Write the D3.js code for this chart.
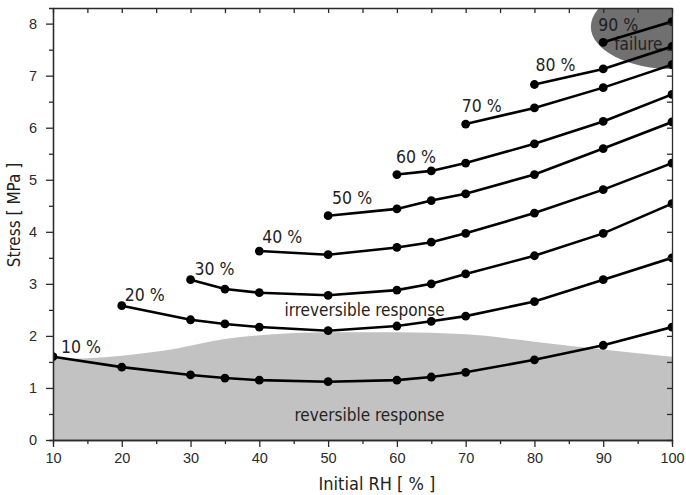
<!DOCTYPE html>
<html>
<head>
<meta charset="utf-8">
<script src="https://cdn.jsdelivr.net/npm/d3@7"></script>
<style>
  body { margin: 0; background: #fff; }
  svg { display: block; font-family: "DejaVu Sans Condensed", "DejaVu Sans", sans-serif; }
  .axis path, .axis line { stroke: #2b2b2b; stroke-width: 1.3; }
  .axis text { fill: #2b2b2b; font-size: 14.5px; }
</style>
</head>
<body>
<svg class="plot" width="686" height="495"></svg>
<script>
// initial RH values where the measurements were taken
var rhValues = [10, 20, 30, 35, 40, 50, 60, 65, 70, 80, 90, 100];

// final RH of each curve (the curve starts at that initial RH)
var finalRH = [10, 20, 30, 40, 50, 60, 70, 80, 90];
var curveLabels = ["10 %", "20 %", "30 %", "40 %", "50 %", "60 %", "70 %", "80 %", "90 %"];

// stress [MPa], one value per rhValues entry from the curve start on
var stress10 = [1.60, 1.40, 1.25, 1.19, 1.15, 1.12, 1.15, 1.21, 1.30, 1.54, 1.82, 2.17];
var stress20 = [2.58, 2.31, 2.23, 2.17, 2.10, 2.19, 2.28, 2.38, 2.66, 3.08, 3.50];
var stress30 = [3.08, 2.90, 2.83, 2.78, 2.88, 3.00, 3.19, 3.54, 3.97, 4.54];
var stress40 = [3.63, 3.56, 3.70, 3.80, 3.97, 4.36, 4.81, 5.32];
var stress50 = [4.31, 4.44, 4.60, 4.73, 5.10, 5.60, 6.11];
var stress60 = [5.10, 5.17, 5.32, 5.69, 6.12, 6.64];
var stress70 = [6.07, 6.38, 6.77, 7.21];
var stress80 = [6.83, 7.13, 7.56];
var stress90 = [7.64, 8.04];

// upper edge of the reversible-response zone
var reversibleRH     = [10, 20, 28, 35, 42, 50, 60, 70, 80, 90, 100];
var reversibleStress = [1.55, 1.62, 1.76, 1.94, 2.03, 2.07, 2.07, 2.03, 1.89, 1.74, 1.60];

// failure zone (ellipse), centre and half axes in data units
var failureCentre = [100, 7.94];
var failureRadius = [11.8, 0.81];

var xTicks = [10, 20, 30, 40, 50, 60, 70, 80, 90, 100];
var yTicks = [0, 1, 2, 3, 4, 5, 6, 7, 8];

var svg = d3.select(".plot"),
    margin = {top: 8, right: 14, bottom: 55, left: 53},
    width = +svg.attr("width") - margin.left - margin.right,
    height = +svg.attr("height") - margin.top - margin.bottom;

var x = d3.scaleLinear().domain([10, 100]).range([0, width]),
    y = d3.scaleLinear().domain([0, 8.3]).range([height, 0]);

var g = svg.append("g")
    .attr("transform", "translate(" + margin.left + "," + margin.top + ")");

g.append("clipPath").attr("id", "clip")
  .append("rect").attr("width", width).attr("height", height);

var plot = g.append("g").attr("clip-path", "url(#clip)");

//reversible zone
var area = d3.area()
    .x(function(d) { return x(d[0]); })
    .y0(height)
    .y1(function(d) { return y(d[1]); })
    .curve(d3.curveMonotoneX);

plot.append("path")
    .datum(reversibleRH.map(function(r, i) { return [r, reversibleStress[i]]; }))
    .attr("d", area)
    .style("fill", "#c2c2c2");

//failure zone
plot.append("ellipse")
    .attr("cx", x(failureCentre[0]))
    .attr("cy", y(failureCentre[1]))
    .attr("rx", x(failureCentre[0] + failureRadius[0]) - x(failureCentre[0]))
    .attr("ry", y(failureCentre[1] - failureRadius[1]) - y(failureCentre[1]))
    .style("fill", "#707070");

//zone labels
g.append("text")
    .attr("x", x(55.3)).attr("y", y(2.38))
    .style("text-anchor", "middle").style("font-size", "17px").style("fill", "#222")
    .text("irreversible response");

g.append("text")
    .attr("x", x(56)).attr("y", y(0.36))
    .style("text-anchor", "middle").style("font-size", "17px").style("fill", "#222")
    .text("reversible response");

plot.append("text")
    .attr("x", x(91.6)).attr("y", y(7.5))
    .style("font-size", "17px").style("fill", "#222")
    .text("failure");

//curves
var allStress = [stress10, stress20, stress30, stress40, stress50, stress60, stress70, stress80, stress90];
var curves = finalRH.map(function(f, i) {
  var rh = rhValues.slice(rhValues.indexOf(f));
  return {
    label: curveLabels[i],
    points: rh.map(function(r, j) { return [r, allStress[i][j]]; })
  };
});

var line = d3.line()
    .x(function(d) { return x(d[0]); })
    .y(function(d) { return y(d[1]); });

plot.selectAll(".curve")
    .data(curves)
    .enter().append("path")
    .attr("class", "curve")
    .attr("d", function(d) { return line(d.points); })
    .style("fill", "none")
    .style("stroke", "#000")
    .style("stroke-width", 2.6);

plot.selectAll(".dot")
    .data(d3.merge(curves.map(function(c) { return c.points; })))
    .enter().append("circle")
    .attr("class", "dot")
    .attr("cx", function(d) { return x(d[0]); })
    .attr("cy", function(d) { return y(d[1]); })
    .attr("r", 4.4)
    .style("fill", "#000");

//curve labels, nudged by hand like the original
var nudge = [[8, -4], [3, -5], [4, -5], [3, -8], [4, -12], [-1, -12], [-4, -12], [1, -14], [-5, -11]];
g.selectAll(".curve-label")
    .data(curves)
    .enter().append("text")
    .attr("class", "curve-label")
    .attr("x", function(d, i) { return x(d.points[0][0]) + nudge[i][0]; })
    .attr("y", function(d, i) { return y(d.points[0][1]) + nudge[i][1]; })
    .style("font-size", "17.5px")
    .style("fill", "#1e1e1e")
    .text(function(d) { return d.label; });

//axes
g.append("g")
    .attr("class", "axis")
    .attr("transform", "translate(0," + height + ")")
    .call(d3.axisBottom(x).tickValues(d3.range(15, 100, 10)).tickSize(4).tickFormat(""));

g.append("g")
    .attr("class", "axis axis--x")
    .attr("transform", "translate(0," + height + ")")
    .call(d3.axisBottom(x).tickValues(xTicks).tickSize(7).tickPadding(6).tickSizeOuter(0));

g.append("g")
    .attr("class", "axis")
    .call(d3.axisLeft(y).tickValues(d3.range(0.5, 8.3, 1)).tickSize(4).tickFormat(""));

g.append("g")
    .attr("class", "axis axis--y")
    .call(d3.axisLeft(y).tickValues(yTicks).tickSize(7).tickPadding(9).tickSizeOuter(0));

g.append("g")
    .attr("class", "axis")
    .call(d3.axisTop(x).tickValues(d3.range(10, 101, 5)).tickSize(-5).tickSizeOuter(0).tickFormat(""));

g.append("g")
    .attr("class", "axis")
    .attr("transform", "translate(" + width + ",0)")
    .call(d3.axisRight(y).tickValues(d3.range(0, 8.3, 0.5)).tickSize(-5).tickSizeOuter(0).tickFormat(""));

//axis titles
svg.append("text")
    .attr("transform", "translate(20,215) rotate(-90)")
    .style("text-anchor", "middle").style("font-size", "17px").style("fill", "#222")
    .text("Stress [ MPa ]");

svg.append("text")
    .attr("x", 377).attr("y", 490)
    .style("text-anchor", "middle").style("font-size", "18px").style("fill", "#222")
    .text("Initial RH [ % ]");
</script>
</body>
</html>
